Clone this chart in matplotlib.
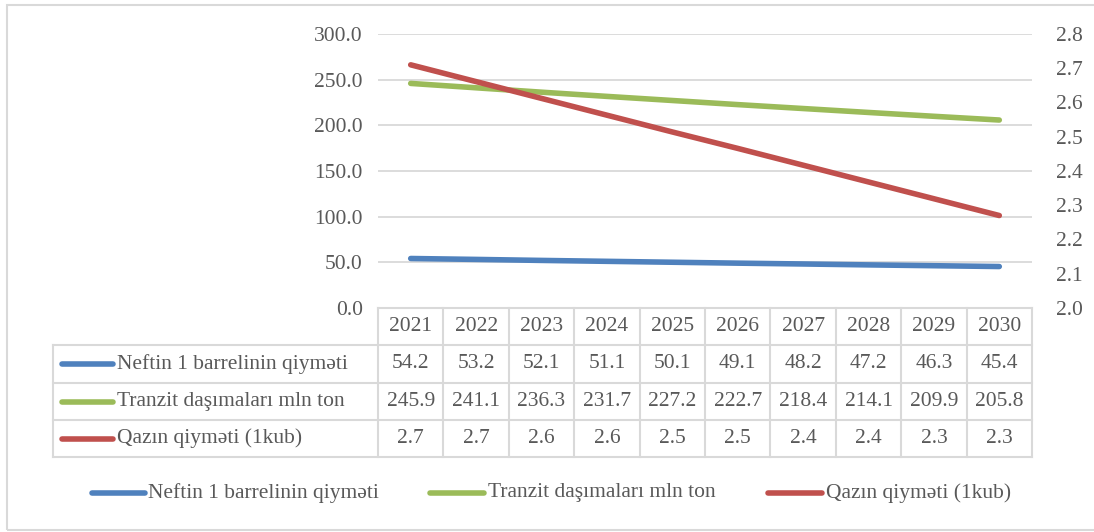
import matplotlib
matplotlib.use("Agg")
import matplotlib.pyplot as plt
from matplotlib.lines import Line2D
from matplotlib.patches import Rectangle

years = ["2021", "2022", "2023", "2024", "2025", "2026", "2027", "2028", "2029", "2030"]
neft = [54.2, 53.2, 52.1, 51.1, 50.1, 49.1, 48.2, 47.2, 46.3, 45.4]
tranzit = [245.9, 241.1, 236.3, 231.7, 227.2, 222.7, 218.4, 214.1, 209.9, 205.8]
qaz = [2.710, 2.661, 2.612, 2.563, 2.514, 2.466, 2.417, 2.368, 2.319, 2.270]
names = ["Neftin 1 barrelinin qiyməti", "Tranzit daşımaları mln ton", "Qazın qiyməti (1kub)"]
colors = ["#4f81bd", "#9bbb59", "#c0504d"]
left_ticks = [0, 50, 100, 150, 200, 250, 300]
right_ticks = [2.0, 2.1, 2.2, 2.3, 2.4, 2.5, 2.6, 2.7, 2.8]

W, H = 1094, 532
plt.rcParams['font.family'] = ['Liberation Serif', 'DejaVu Serif']
fig = plt.figure(figsize=(W / 100, H / 100), dpi=100)
TXT = "#595959"
GRID = "#d9d9d9"
FS = 15.5

def fx(x):
    return x / W

def fy(y):
    return 1 - y / H

x0, x1, y0, y1 = 378, 1032, 34, 308
ax = fig.add_axes([fx(x0), fy(y1), fx(x1) - fx(x0), fy(y0) - fy(y1)])
ax2 = ax.twinx()
xs = list(range(len(years)))
ax.plot(xs, neft, color=colors[0], lw=4, solid_capstyle="round")
ax.plot(xs, tranzit, color=colors[1], lw=4, solid_capstyle="round")
ax2.plot(xs, qaz, color=colors[2], lw=4, solid_capstyle="round")
ax.set_xlim(-0.5, len(years) - 0.5)
ax.set_ylim(0, 300)
ax2.set_ylim(2.0, 2.8)
ax.set_yticks(left_ticks)
ax.set_yticklabels([f"{v:.1f}" for v in left_ticks])
ax2.set_yticks(right_ticks)
ax2.set_yticklabels([f"{v:.1f}" for v in right_ticks])
ax.set_xticks([])
for a in (ax, ax2):
    for s in a.spines.values():
        s.set_visible(False)
    a.tick_params(length=0, labelsize=FS, colors=TXT)
ax.tick_params(axis="y", pad=11)
ax2.tick_params(axis="y", pad=17)
ax.yaxis.grid(True, color=GRID, lw=1.3)
ax.set_axisbelow(True)

# outer border
fig.add_artist(Rectangle((fx(7), fy(530)), fx(1100) - fx(7), fy(5) - fy(530),
                         transform=fig.transFigure, fill=False, ec=GRID, lw=1.5))

# data table
rows_y = [308, 345, 383, 420, 457]
colw = (x1 - x0) / len(years)
lab_x = 53

def hline(y, xa, xb):
    fig.add_artist(Line2D([fx(xa), fx(xb)], [fy(y), fy(y)], color=GRID, lw=1.5))

def vline(x, ya, yb):
    fig.add_artist(Line2D([fx(x), fx(x)], [fy(ya), fy(yb)], color=GRID, lw=1.5))

hline(rows_y[0], x0, x1)
for y in rows_y[1:]:
    hline(y, lab_x, x1)
for i in range(len(years) + 1):
    vline(x0 + i * colw, rows_y[0], rows_y[-1])
vline(lab_x, rows_y[1], rows_y[-1])

for i, yr in enumerate(years):
    cx = x0 + (i + 0.5) * colw
    fig.text(fx(cx), fy((rows_y[0] + rows_y[1]) / 2), yr, ha="center", va="center",
             fontsize=FS, color=TXT)

series_vals = [neft, tranzit, qaz]
for r, (nm, col, vals) in enumerate(zip(names, colors, series_vals)):
    yc = (rows_y[r + 1] + rows_y[r + 2]) / 2
    fig.add_artist(Line2D([fx(62), fx(113)], [fy(yc), fy(yc)], color=col, lw=4,
                          solid_capstyle="round"))
    fig.text(fx(117), fy(yc), nm, ha="left", va="center", fontsize=FS, color=TXT)
    for i, v in enumerate(vals):
        cx = x0 + (i + 0.5) * colw
        fig.text(fx(cx), fy(yc), f"{v:.1f}", ha="center", va="center", fontsize=FS, color=TXT)

# legend
leg_items = [(92, 145, 148), (430, 484, 488), (768, 822, 826)]
for (la, lb, tx), nm, col in zip(leg_items, names, colors):
    fig.add_artist(Line2D([fx(la), fx(lb)], [fy(493), fy(493)], color=col, lw=4,
                          solid_capstyle="round"))
    fig.text(fx(tx), fy(493), nm, ha="left", va="center", fontsize=FS, color=TXT)

fig.savefig("out.png", dpi=100)
